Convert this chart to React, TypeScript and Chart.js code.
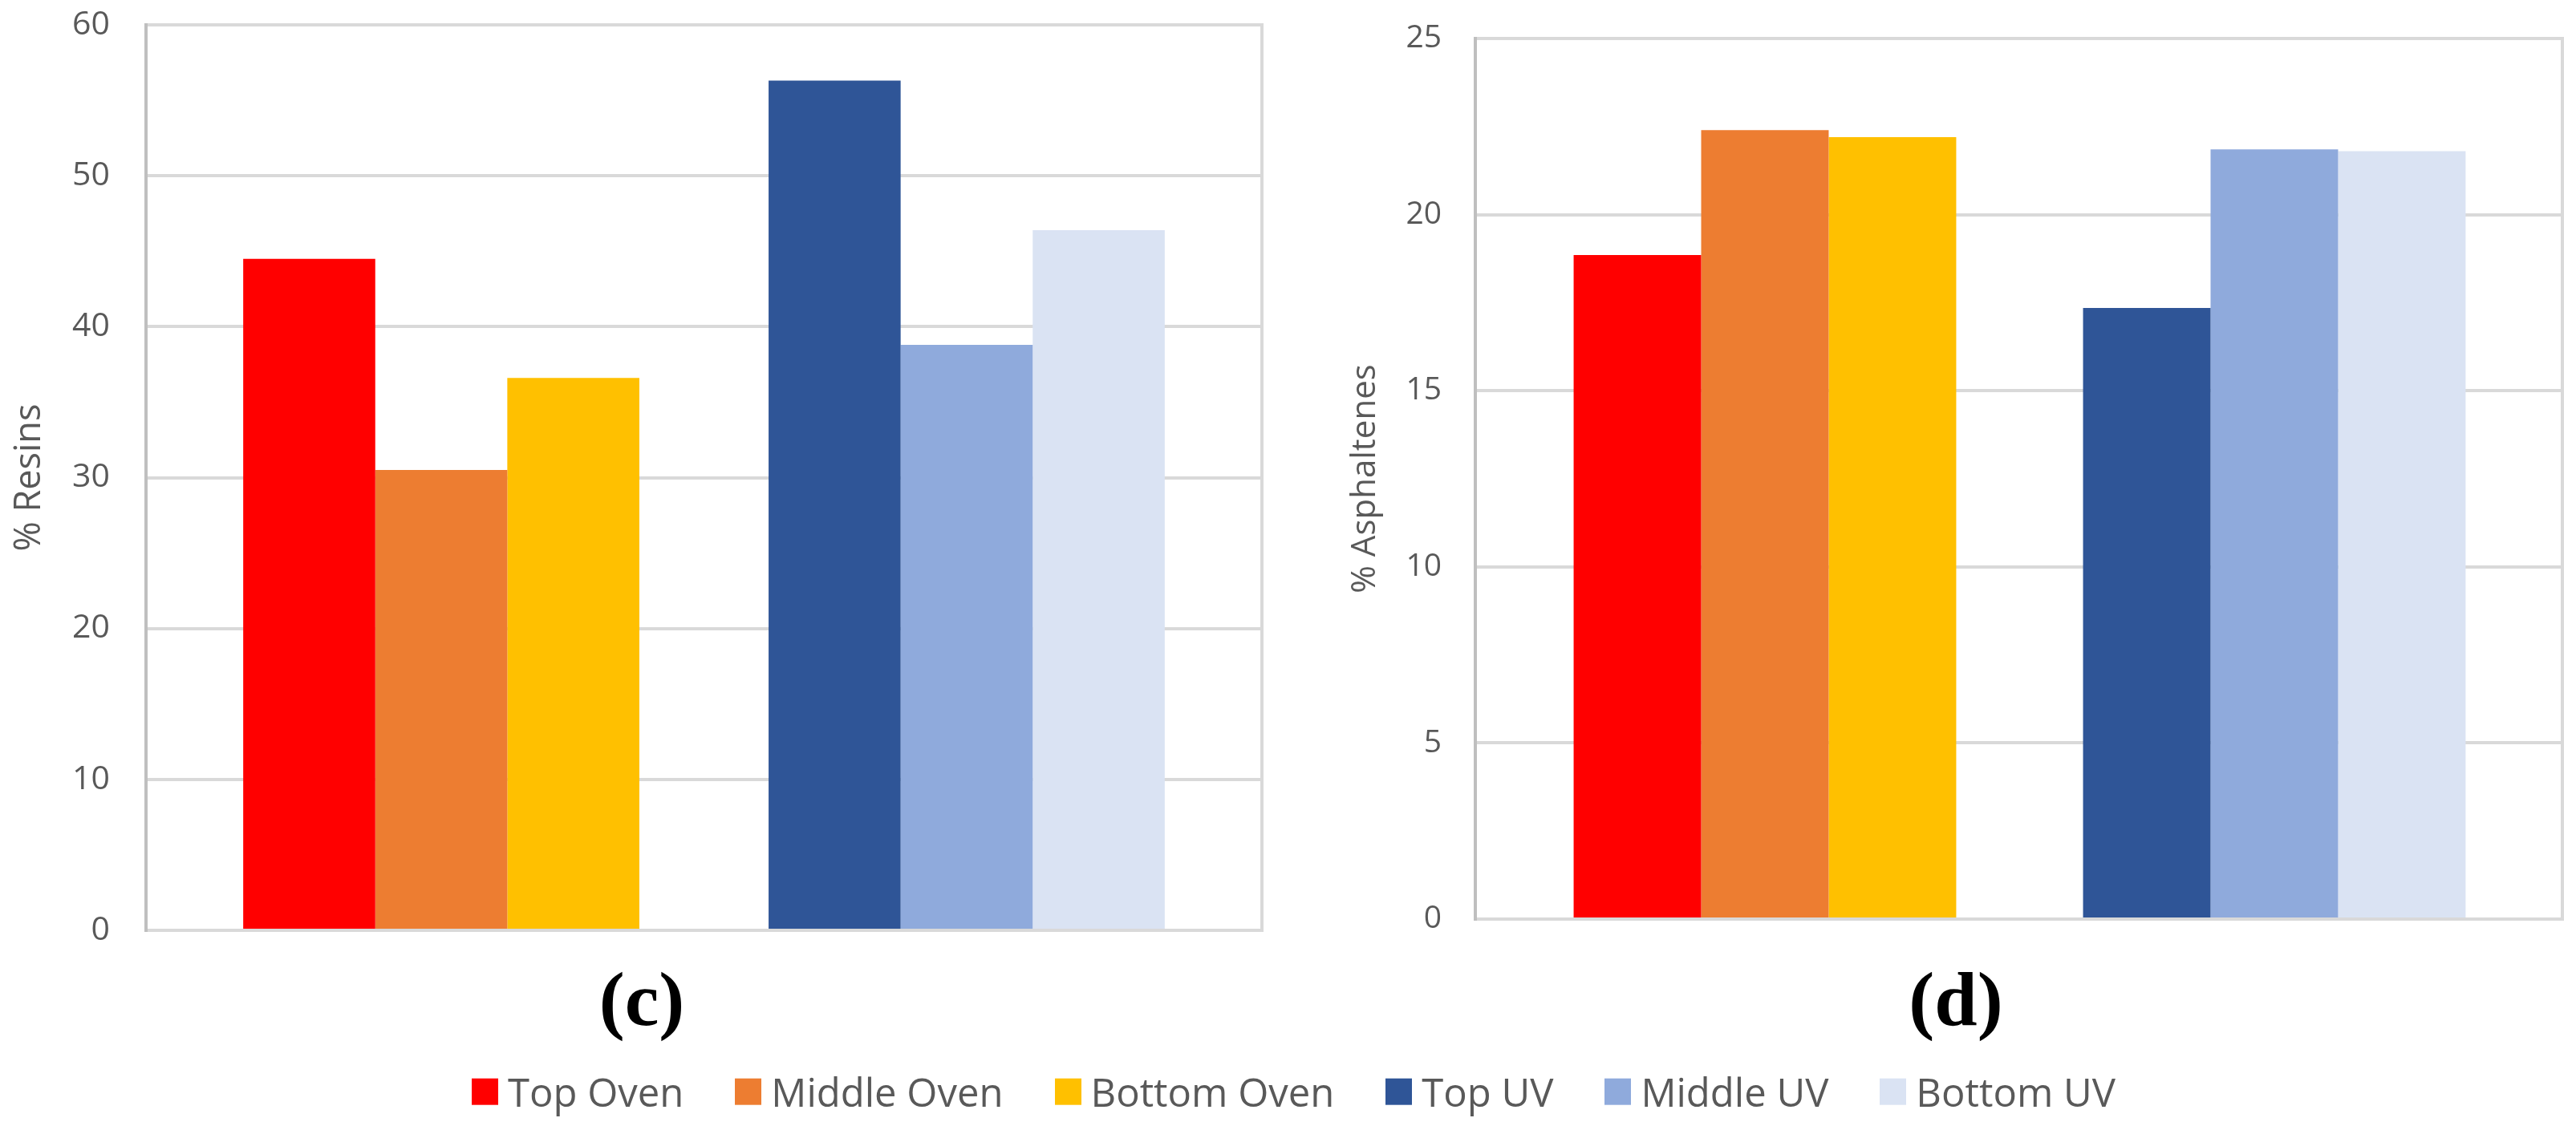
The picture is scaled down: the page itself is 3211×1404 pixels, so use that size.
import React, { useEffect, useRef } from 'react';
import { Chart, registerables } from 'chart.js';

Chart.register(...registerables);

// ---- data ----
const seriesNames = ['Top Oven', 'Middle Oven', 'Bottom Oven', 'Top UV', 'Middle UV', 'Bottom UV'];
const seriesColors = ['#FF0000', '#ED7D31', '#FFC000', '#2F5597', '#8FAADC', '#DAE3F3'];
const seriesGroup = [0, 0, 0, 1, 1, 1]; // 0 = Oven cluster, 1 = UV cluster
const resinsValues = [44.5, 30.5, 36.6, 56.3, 38.8, 46.4];
const asphaltenesValues = [18.85, 22.4, 22.2, 17.35, 21.85, 21.8];
const resinsTicks = [0, 10, 20, 30, 40, 50, 60];
const asphaltenesTicks = [0, 5, 10, 15, 20, 25];
const panelLabels = ['(c)', '(d)'];
const axisTitles = ['% Resins', '% Asphaltenes'];

const TEXT = '#595959';

const rightFrame = {
  id: 'rightFrame',
  beforeDatasetsDraw(chart: any) {
    const { ctx, chartArea } = chart;
    ctx.save();
    ctx.strokeStyle = '#d9d9d9';
    ctx.lineWidth = 4;
    ctx.beginPath();
    ctx.moveTo(chartArea.right, chartArea.top - 2);
    ctx.lineTo(chartArea.right, chartArea.bottom + 2);
    ctx.stroke();
    ctx.restore();
  },
};

type PanelProps = {
  values: number[];
  ticks: number[];
  title: string;
  left: number;
  width: number;
  height: number;
  padTop: number;
  padRight: number;
  yWidth: number;
  xHeight: number;
  xMin: number;
  xMax: number;
  catPct: number;
  tickSize: number;
  tickPad: number;
  titleSize: number;
  titlePad: number;
};

function Panel(p: PanelProps) {
  const ref = useRef<HTMLCanvasElement | null>(null);
  useEffect(() => {
    if (!ref.current) return;
    const chart = new Chart(ref.current, {
      type: 'bar',
      data: {
        datasets: seriesNames.map((name, i) => ({
          label: name,
          data: [{ x: seriesGroup[i], y: p.values[i] }],
          backgroundColor: seriesColors[i],
          borderWidth: 0,
          skipNull: true,
          categoryPercentage: p.catPct,
          barPercentage: 1,
        })),
      },
      options: {
        animation: false,
        responsive: false,
        devicePixelRatio: 1,
        layout: { padding: { top: p.padTop, right: p.padRight, left: 0, bottom: 0 } },
        plugins: { legend: { display: false }, tooltip: { enabled: false } },
        scales: {
          x: {
            type: 'linear',
            min: p.xMin,
            max: p.xMax,
            offset: false,
            stacked: false,
            grid: { display: false, offset: false },
            ticks: { display: false },
            border: { display: true, color: '#d9d9d9', width: 4 },
            afterBuildTicks: (s: any) => {
              s.ticks = [{ value: 0 }, { value: 1 }];
            },
            afterFit: (s: any) => {
              s.height = p.xHeight;
              s.paddingLeft = 0;
              s.paddingRight = 0;
              s.paddingTop = 0;
              s.paddingBottom = 0;
            },
          },
          y: {
            type: 'linear',
            min: p.ticks[0],
            max: p.ticks[p.ticks.length - 1],
            stacked: false,
            grid: { color: '#d9d9d9', lineWidth: 4, drawTicks: false },
            border: { color: '#bfbfbf', width: 4 },
            ticks: {
              color: TEXT,
              padding: p.tickPad,
              font: { family: '"Open Sans"', size: p.tickSize },
            },
            afterBuildTicks: (s: any) => {
              s.ticks = p.ticks.map((v) => ({ value: v }));
            },
            title: {
              display: true,
              text: p.title,
              color: TEXT,
              font: { family: '"Open Sans"', size: p.titleSize },
              padding: { top: p.titlePad, bottom: 0 },
            },
            afterFit: (s: any) => {
              s.width = p.yWidth;
              s.paddingLeft = 0;
              s.paddingRight = 0;
              s.paddingTop = 0;
              s.paddingBottom = 0;
            },
          },
        },
      } as any,
      plugins: [rightFrame],
    });
    return () => chart.destroy();
  }, []);
  return (
    <canvas
      ref={ref}
      width={p.width}
      height={p.height}
      style={{ position: 'absolute', left: p.left, top: 0, width: p.width, height: p.height, display: 'block' }}
    />
  );
}

export default function App() {
  return (
    <div style={{ position: 'absolute', left: 0, top: 0, width: 3211, height: 1404, background: '#fff', overflow: 'hidden' }}>
      <Panel
        values={resinsValues}
        ticks={resinsTicks}
        title={axisTitles[0]}
        left={0}
        width={1600}
        height={1200}
        padTop={31}
        padRight={27}
        yWidth={182}
        xHeight={40}
        xMin={-0.562}
        xMax={1.562}
        catPct={0.754}
        tickSize={41}
        tickPad={45}
        titleSize={45}
        titlePad={10}
      />
      <Panel
        values={asphaltenesValues}
        ticks={asphaltenesTicks}
        title={axisTitles[1]}
        left={1600}
        width={1611}
        height={1200}
        padTop={48}
        padRight={17}
        yWidth={239}
        xHeight={54}
        xMin={-0.5685}
        xMax={1.5654}
        catPct={0.751}
        tickSize={39}
        tickPad={42}
        titleSize={42}
        titlePad={77}
      />
      {[800, 2438].map((cx, i) => (
        <div
          key={panelLabels[i]}
          style={{
            position: 'absolute',
            left: cx,
            top: 1246,
            transform: 'translate(-50%, -50%)',
            fontFamily: '"Liberation Serif", serif',
            fontWeight: 'bold',
            fontSize: 96,
            lineHeight: 1,
            color: '#000',
            whiteSpace: 'nowrap',
          }}
        >
          {panelLabels[i]}
        </div>
      ))}
      <div
        style={{
          position: 'absolute',
          left: 588,
          top: 1361,
          transform: 'translateY(-50%)',
          display: 'flex',
          alignItems: 'center',
          fontFamily: '"Open Sans", sans-serif',
          fontSize: 49,
          color: TEXT,
          whiteSpace: 'nowrap',
        }}
      >
        {seriesNames.map((n, i) => (
          <div key={n} style={{ display: 'flex', alignItems: 'center', marginRight: i < seriesNames.length - 1 ? 64 : 0 }}>
            <span style={{ display: 'inline-block', width: 33, height: 33, background: seriesColors[i], marginRight: 12 }} />
            <span style={{ lineHeight: 1.36 }}>{n}</span>
          </div>
        ))}
      </div>
    </div>
  );
}
